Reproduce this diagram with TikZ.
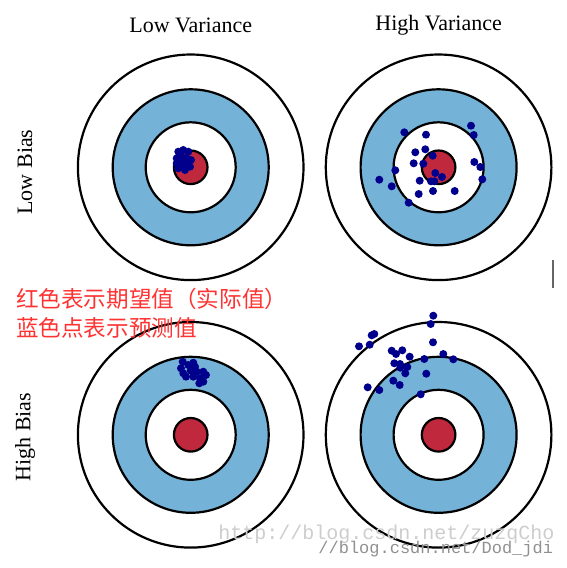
\documentclass[tikz,border=0pt]{standalone}
\usepackage{fontspec}
\setmainfont{Liberation Serif}
\newfontfamily\cjk{Noto Sans CJK SC}
\newfontfamily\markfont{Liberation Mono}
\usepackage{tikz}

\definecolor{ringblue}{RGB}{116,178,215}
\definecolor{bullred}{RGB}{192,40,62}
\definecolor{shotblue}{RGB}{0,0,140}
\definecolor{notered}{RGB}{255,50,50}
\definecolor{markgray}{RGB}{205,205,205}

\begin{document}
\begin{tikzpicture}[x=0.5pt,y=-0.5pt,
        ring/.style={draw=black,line width=1.1pt},
        shot/.style={fill=shotblue},
        title/.style={font=\fontsize{11}{13}\selectfont}]
    \useasboundingbox (0,0) rectangle (567,568);
    % the four targets
    \foreach \cx/\cy in {190.7/167.3, 438.6/167.3, 190.7/434.8, 438.6/434.8} {
        \draw[ring,fill=white] (\cx,\cy) circle (56.4pt);
        \draw[ring,fill=ringblue] (\cx,\cy) circle (39pt);
        \draw[ring,fill=white] (\cx,\cy) circle (22.5pt);
        \draw[ring,fill=bullred] (\cx,\cy) circle (8.4pt);
    }
    % shots
    \foreach \px/\py in {178.3/151.7, 183.3/150, 188.3/151.7, 176.7/158.3, 181.7/156.7, 186.7/158.3, 191/160,
            176.7/163.3, 181.7/163.3, 188.3/164.3, 178.3/168.3, 185/170, 180/166, 190/166.7}
        \fill[shot] (\px,\py) circle (2pt);
    \foreach \px/\py in {404.3/132.3, 426/134.7, 471/125.7, 473.7/135, 425.3/149.3, 415.3/152.3, 432.7/155.7,
            413.7/163.3, 423.3/163.7, 474.3/162, 480.3/167, 395.3/170.3, 379.3/179.7, 435.3/173, 442/177,
            482.3/179.3, 391.7/186.3, 419.7/180.7, 431/181.3, 434.3/181.3, 433/191, 454.7/191, 418.7/194, 408.7/202.7}
        \fill[shot] (\px,\py) circle (2pt);
    \foreach \px/\py in {182.7/361.7, 181/368.3, 183.3/373.3, 188.3/365, 193.3/362.7, 195/366.7, 190.7/370.7,
            196.7/371.7, 203.3/371.7, 206/375, 200/378.3, 203.3/381.7, 199.3/383.3, 193.3/376.7, 186/376.7}
        \fill[shot] (\px,\py) circle (2pt);
    \foreach \px/\py in {433.3/315.7, 430.7/324, 374.3/334, 371.7/335.3, 359/346.3, 369.7/344.7, 433/342.3,
            391.7/350.7, 402.3/350.3, 396/354, 409.7/356.7, 443.3/354, 424.3/359, 453.3/359.3, 394.3/363.3,
            400/364, 400.3/367.7, 407.3/367, 405.3/373.3, 426.3/373.7, 393.3/380.7, 399.7/385, 367.7/387.3,
            379.3/390, 420.7/394.3}
        \fill[shot] (\px,\py) circle (2pt);
    % labels
    \node[title] (lowvar) at (190.7,25) {Low Variance};
    \node[title] (highvar) at (438.6,25) {High Variance};
    \node[title,rotate=90] (lowbias) at (25,172) {Low Bias};
    \node[title,rotate=90] (highbias) at (25,437) {High Bias};
    \node[anchor=west,text=notered,font=\cjk\fontsize{11.3}{13}\selectfont] (redline) at (9,299) {红色表示期望值（实际值）};
    \node[anchor=west,text=notered,font=\cjk\fontsize{11.3}{13}\selectfont] (blueline) at (9,328) {蓝色点表示预测值};
    % watermark
    \node[anchor=base west,text=markgray,font=\markfont\fontsize{10}{12}\selectfont,inner sep=0pt] (mark) at (218,539) {http://blog.csdn.net/zuzqCho};
    \node[anchor=base west,text=markgray!70!black,font=\markfont\fontsize{8.5}{10}\selectfont,inner sep=0pt] (submark) at (318,553) {//blog.csdn.net/Dod\_jdi};
    \draw[gray!80!black,line width=1pt] (553.3,260) -- (553.3,288);
\end{tikzpicture}
\end{document}
